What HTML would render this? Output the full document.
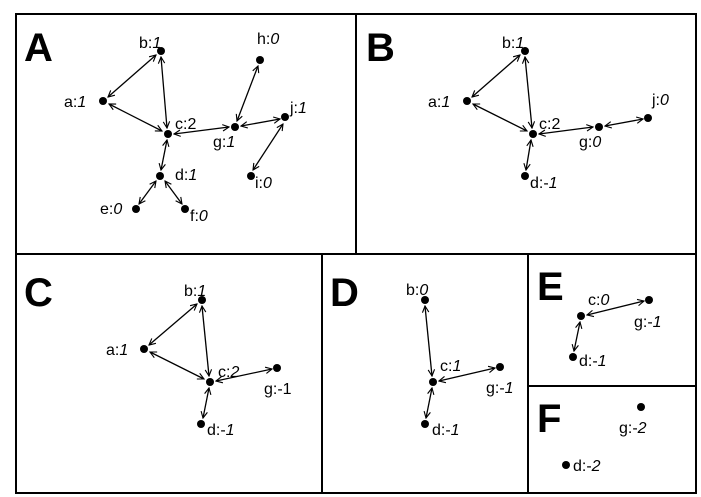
<!DOCTYPE html>
<html><head><meta charset="utf-8"><style>
html,body{margin:0;padding:0;background:#fff;}
svg{display:block;}
text{font-family:"Liberation Sans",sans-serif;font-size:16px;fill:#000;}
.L{font-size:40px;font-weight:bold;}
</style></head><body>
<svg width="701" height="497" viewBox="0 0 701 497">
<defs>
<marker id="ah" viewBox="0 0 10 10" refX="9" refY="5" markerWidth="8" markerHeight="8" markerUnits="userSpaceOnUse" orient="auto-start-reverse">
<path d="M1,1 L9,5 L1,9" fill="none" stroke="#000" stroke-width="1.4"/>
</marker>
</defs>
<g fill="none" stroke="#000" stroke-width="2">
<rect x="16" y="14" width="680" height="479"/>
<line x1="16" y1="254" x2="696" y2="254"/>
<line x1="356" y1="14" x2="356" y2="254"/>
<line x1="322" y1="254" x2="322" y2="493"/>
<line x1="528" y1="254" x2="528" y2="493"/>
<line x1="528" y1="386" x2="696" y2="386"/>
</g>
<text class="L" x="24" y="61">A</text>
<text class="L" x="366" y="61">B</text>
<text class="L" x="24" y="306">C</text>
<text class="L" x="330" y="306">D</text>
<text class="L" x="537" y="300">E</text>
<text class="L" x="537" y="432">F</text>
<g stroke="#000" stroke-width="1.3" marker-start="url(#ah)" marker-end="url(#ah)">
<line x1="108" y1="97" x2="156" y2="55"/>
<line x1="161" y1="57" x2="167" y2="128"/>
<line x1="109" y1="104" x2="162" y2="131"/>
<line x1="174" y1="134" x2="229" y2="127"/>
<line x1="258" y1="66" x2="237" y2="121"/>
<line x1="241" y1="126" x2="280" y2="119"/>
<line x1="283" y1="124" x2="253" y2="170"/>
<line x1="167" y1="140" x2="161" y2="170"/>
<line x1="156" y1="181" x2="139" y2="204"/>
<line x1="165" y1="181" x2="182" y2="204"/>
<line x1="472" y1="97" x2="520" y2="55"/>
<line x1="525" y1="57" x2="532" y2="128"/>
<line x1="473" y1="104" x2="527" y2="131"/>
<line x1="539" y1="134" x2="593" y2="127"/>
<line x1="605" y1="126" x2="643" y2="119"/>
<line x1="531" y1="140" x2="526" y2="170"/>
<line x1="149" y1="345" x2="197" y2="304"/>
<line x1="202" y1="306" x2="209" y2="376"/>
<line x1="150" y1="352" x2="204" y2="379"/>
<line x1="216" y1="381" x2="272" y2="369"/>
<line x1="209" y1="388" x2="203" y2="418"/>
<line x1="425" y1="306" x2="432" y2="376"/>
<line x1="439" y1="381" x2="495" y2="368"/>
<line x1="432" y1="388" x2="426" y2="418"/>
<line x1="587" y1="315" x2="644" y2="301"/>
<line x1="580" y1="322" x2="574" y2="351"/>
</g>
<g fill="#000">
<circle cx="161" cy="51" r="4"/><circle cx="260" cy="60" r="4"/><circle cx="103" cy="101" r="4"/>
<circle cx="285" cy="117" r="4"/><circle cx="168" cy="134" r="4"/><circle cx="235" cy="127" r="4"/>
<circle cx="160" cy="176" r="4"/><circle cx="251" cy="176" r="4"/><circle cx="136" cy="209" r="4"/><circle cx="185" cy="209" r="4"/>
<circle cx="525" cy="51" r="4"/><circle cx="467" cy="101" r="4"/><circle cx="533" cy="134" r="4"/>
<circle cx="599" cy="127" r="4"/><circle cx="648" cy="118" r="4"/><circle cx="525" cy="176" r="4"/>
<circle cx="202" cy="300" r="4"/><circle cx="144" cy="349" r="4"/><circle cx="210" cy="382" r="4"/>
<circle cx="277" cy="368" r="4"/><circle cx="201" cy="424" r="4"/>
<circle cx="425" cy="300" r="4"/><circle cx="433" cy="382" r="4"/><circle cx="500" cy="367" r="4"/><circle cx="425" cy="424" r="4"/>
<circle cx="581" cy="316" r="4"/><circle cx="649" cy="300" r="4"/><circle cx="573" cy="357" r="4"/>
<circle cx="641" cy="407" r="4"/><circle cx="566" cy="465" r="4"/>
</g>
<g>
<text x="139" y="48">b:<tspan font-style="italic">1</tspan></text>
<text x="257" y="44">h:<tspan font-style="italic">0</tspan></text>
<text x="64" y="107">a:<tspan font-style="italic">1</tspan></text>
<text x="175" y="129">c:2</text>
<text x="213" y="147">g:<tspan font-style="italic">1</tspan></text>
<text x="290" y="113">j:<tspan font-style="italic">1</tspan></text>
<text x="175" y="180">d:<tspan font-style="italic">1</tspan></text>
<text x="255" y="188">i:<tspan font-style="italic">0</tspan></text>
<text x="100" y="214">e:<tspan font-style="italic">0</tspan></text>
<text x="190" y="221">f:<tspan font-style="italic">0</tspan></text>

<text x="502" y="48">b:<tspan font-style="italic">1</tspan></text>
<text x="428" y="107">a:<tspan font-style="italic">1</tspan></text>
<text x="539" y="129">c:2</text>
<text x="579" y="147">g:<tspan font-style="italic">0</tspan></text>
<text x="652" y="105">j:<tspan font-style="italic">0</tspan></text>
<text x="530" y="188">d:-<tspan font-style="italic">1</tspan></text>

<text x="184" y="296">b:<tspan font-style="italic">1</tspan></text>
<text x="106" y="355">a:<tspan font-style="italic">1</tspan></text>
<text x="218" y="377">c:<tspan font-style="italic">2</tspan></text>
<text x="264" y="394">g:-1</text>
<text x="207" y="435">d:-<tspan font-style="italic">1</tspan></text>

<text x="406" y="295">b:<tspan font-style="italic">0</tspan></text>
<text x="440" y="371">c:<tspan font-style="italic">1</tspan></text>
<text x="486" y="393">g:-<tspan font-style="italic">1</tspan></text>
<text x="432" y="435">d:-<tspan font-style="italic">1</tspan></text>

<text x="588" y="305">c:<tspan font-style="italic">0</tspan></text>
<text x="634" y="327">g:-<tspan font-style="italic">1</tspan></text>
<text x="579" y="366">d:-<tspan font-style="italic">1</tspan></text>

<text x="619" y="433">g:-<tspan font-style="italic">2</tspan></text>
<text x="573" y="471">d:-<tspan font-style="italic">2</tspan></text>
</g>
</svg>
</body></html>
